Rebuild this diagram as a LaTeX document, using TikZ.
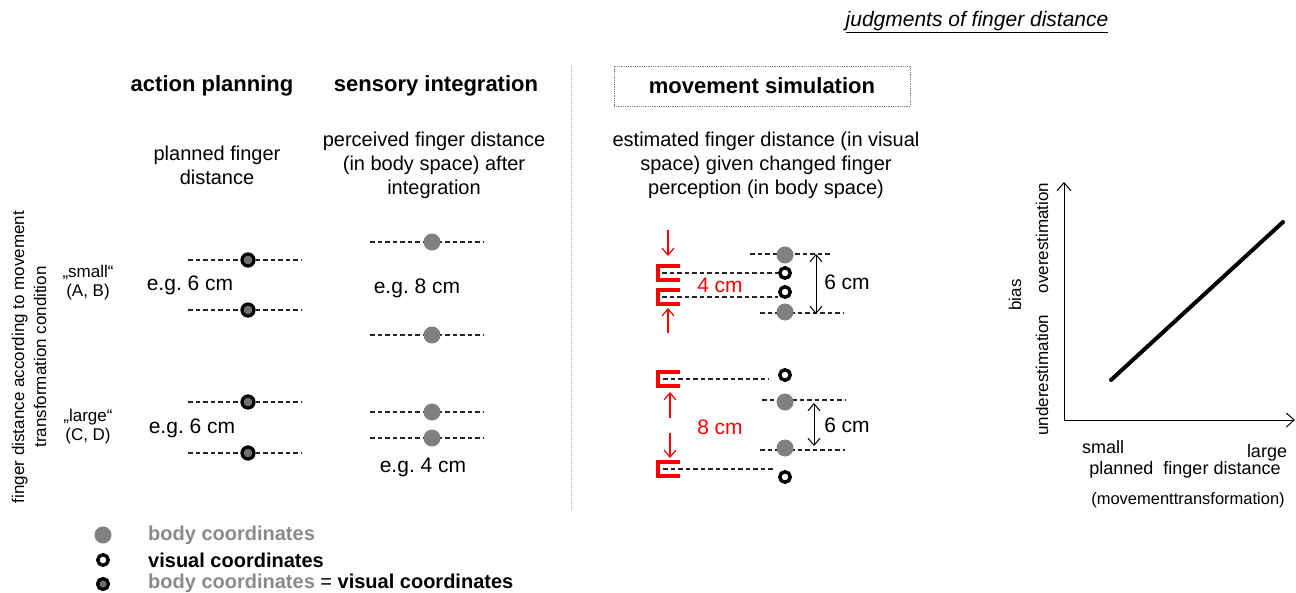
\documentclass[tikz,border=0pt]{standalone}
\usepackage{fontspec}
\setmainfont{Liberation Sans}
\usetikzlibrary{arrows.meta,backgrounds}
\definecolor{dotgray}{HTML}{808080}
\definecolor{txtgray}{HTML}{8A8A8A}
\definecolor{bothfill}{HTML}{6E6E6E}
\definecolor{sred}{HTML}{FF0000}
\begin{document}
\begin{tikzpicture}[x=1pt,y=-1pt,
  txt/.style={font=\fontsize{20}{24}\selectfont,align=center,inner sep=0pt},
  lbl/.style={font=\fontsize{21}{24}\selectfont,align=center,inner sep=0pt},
  hdr/.style={font=\bfseries\fontsize{22}{26}\selectfont,inner sep=0pt},
  sm/.style={font=\fontsize{17}{21}\selectfont,align=center,inner sep=0pt},
  leg/.style={font=\bfseries\fontsize{20}{24}\selectfont,inner sep=0pt,anchor=west},
  dline/.style={draw=black!85,line width=1.1pt,dash pattern=on 4.5pt off 3pt},
  bodydot/.style={circle,fill=dotgray,minimum size=17pt,inner sep=0pt},
  visdot/.style={circle,draw=black,fill=white,line width=3.4pt,minimum size=10.5pt,inner sep=0pt},
  bothdot/.style={circle,draw=black,fill=bothfill,line width=3.2pt,minimum size=12pt,inner sep=0pt},
  brk/.style={draw=sred,line width=4.2pt,line join=miter},
  rarr/.style={draw=sred,line width=1.2pt,-{Straight Barb[length=7pt,width=12pt]}},
  darr/.style={draw=black,line width=1pt,{Straight Barb[length=7pt,width=12pt]}-{Straight Barb[length=7pt,width=12pt]}},
  axarr/.style={draw=black,line width=1pt,-{Straight Barb[length=8pt,width=14pt]}}
]
\useasboundingbox (0,0) rectangle (1296,592);

% title
\node[font=\itshape\fontsize{21}{25}\selectfont,inner sep=0pt] (title) at (977,22) {\underline{judgments of finger distance}};

% divider
\coordinate (divtop) at (571,65);
\coordinate (divbot) at (571,510);
\draw[dotgray!70,densely dotted,line width=1pt] (divtop) -- (divbot);

% headers
\node[hdr] (hAP) at (212,86) {action planning};
\node[hdr] (hSI) at (436,86) {sensory integration};
\node[hdr,draw=gray,densely dotted,line width=0.8pt,minimum width=296pt,minimum height=40pt] (hMS) at (762,86) {movement simulation};

% subtitles
\node[txt] (sAP) at (217,165) {planned finger\\distance};
\node[txt] (sSI) at (434,165) {perceived finger distance\\(in body space) after\\integration};
\node[txt] (sMS) at (766,165) {estimated finger distance (in visual\\space) given changed finger\\perception (in body space)};

% left labels
\node[font=\fontsize{17}{22}\selectfont,rotate=90,align=center,inner sep=0pt] (vlab) at (29,357) {finger distance according to movement\\transformation condition};
\node[sm,font=\fontsize{17}{19}\selectfont] (cS) at (88,283) {„small“\\(A, B)};
\node[sm,font=\fontsize{17}{19}\selectfont] (cL) at (88,427) {„large“\\(C, D)};

% action planning
\node[bothdot] (a1) at (248,260) {};
\node[bothdot] (a2) at (248,310) {};
\node[bothdot] (a3) at (248,402) {};
\node[bothdot] (a4) at (248,453) {};
\node[lbl] (e1) at (190,285) {e.g.\ 6 cm};
\node[lbl] (e2) at (192,428) {e.g.\ 6 cm};

% sensory integration
\node[bodydot] (s1) at (432,242) {};
\node[bodydot] (s2) at (432,335) {};
\node[bodydot] (s3) at (432,412) {};
\node[bodydot] (s4) at (432,438) {};
\node[lbl] (e3) at (417,288) {e.g.\ 8 cm};
\node[lbl] (e4) at (423,467) {e.g.\ 4 cm};

% movement simulation
\node[bodydot] (g1) at (785,255) {};
\node[visdot] (v1) at (785,273) {};
\node[visdot] (v2) at (785,292) {};
\node[bodydot] (g2) at (785,312) {};
\node[visdot] (v3) at (785,375) {};
\node[bodydot] (g3) at (785,402) {};
\node[bodydot] (g4) at (785,448) {};
\node[visdot] (v4) at (785,477) {};

\coordinate (m1) at (662,273);
\coordinate (m2) at (662,297);
\coordinate (m3) at (663,379);
\coordinate (m4) at (663,469);

\draw[brk] (680,266) -- (658,266) -- (658,280) -- (680,280);
\draw[brk] (680,290) -- (658,290) -- (658,304) -- (680,304);
\draw[brk] (680,372) -- (658,372) -- (658,386) -- (680,386);
\draw[brk] (680,462) -- (658,462) -- (658,476) -- (680,476);

\begin{scope}[on background layer]
  \foreach \n in {a1,a2,a3,a4}
    \draw[dline] ([xshift=-60pt]\n.center) -- ([xshift=54pt]\n.center);
  \foreach \n in {s1,s2,s3,s4}
    \draw[dline] ([xshift=-62pt]\n.center) -- ([xshift=51pt]\n.center);
  \draw[dline] ([xshift=-35pt,yshift=1pt]g1.center) -- ([xshift=47pt,yshift=1pt]g1.center);
  \draw[dline] ([xshift=-25pt,yshift=-1pt]g2.center) -- ([xshift=58pt,yshift=-1pt]g2.center);
  \draw[dline] ([xshift=-23pt,yshift=2pt]g3.center) -- ([xshift=60pt,yshift=2pt]g3.center);
  \draw[dline] ([xshift=-25pt,yshift=-2pt]g4.center) -- ([xshift=60pt,yshift=-2pt]g4.center);
  \draw[dline] (m1) -- (v1.west |- m1);
  \draw[dline] (m2) -- (v2.west |- m2);
  \draw[dline] (m3) -- ([xshift=-10pt]v3.west |- m3);
  \draw[dline] (m4) -- ([xshift=-3pt]v4.west |- m4);
\end{scope}

% double arrows and labels
\draw[darr] ([xshift=31pt,yshift=1pt]g1.center) -- ([xshift=31pt,yshift=-2pt]g2.center);
\draw[darr] ([xshift=29pt,yshift=-1pt]g3.center) -- ([xshift=29pt,yshift=2pt]g4.center);
\node[lbl] (d1) at (847,282) {6 cm};
\node[lbl] (d2) at (847,425) {6 cm};

% red arrows and labels
\coordinate (r1s) at (668,230); \coordinate (r1e) at (668,256);
\coordinate (r2s) at (668,333); \coordinate (r2e) at (668,308);
\coordinate (r3s) at (670,418); \coordinate (r3e) at (670,392);
\coordinate (r4s) at (670,433); \coordinate (r4e) at (670,458);
\draw[rarr] (r1s) -- (r1e);
\draw[rarr] (r2s) -- (r2e);
\draw[rarr] (r3s) -- (r3e);
\draw[rarr] (r4s) -- (r4e);
\node[lbl,text=sred] (f1) at (720,285) {4 cm};
\node[lbl,text=sred] (f2) at (720,427) {8 cm};

% graph
\coordinate (O) at (1064,420);
\coordinate (Ytop) at (1064,182);
\coordinate (Xend) at (1295,420);
\draw[axarr] (O) -- (Ytop);
\draw[axarr] (O) -- (Xend);
\coordinate (gl1) at (1111,380);
\coordinate (gl2) at (1283,222);
\draw[line width=4pt,line cap=round] (gl1) -- (gl2);
\node[sm,rotate=90] (bias) at (1015,295) {bias};
\node[sm,rotate=90] (under) at (1042,375) {underestimation};
\node[sm,rotate=90] (over) at (1042,238) {overestimation};
\node[sm,font=\fontsize{18}{21}\selectfont] (xs) at (1103,447) {small};
\node[sm,font=\fontsize{18}{21}\selectfont] (xl) at (1267,453) {large};
\node[sm,font=\fontsize{18}{21}\selectfont] (xt) at (1185,470) {planned\ \ finger\ distance};
\node[sm,font=\fontsize{16.5}{20}\selectfont] (xt2) at (1188,500) {(movementtransformation)};

% legend
\node[bodydot] (lg1) at (103,535) {};
\node[visdot] (lg2) at (103,560) {};
\node[bothdot,minimum size=11pt,line width=3.2pt] (lg3) at (103,584) {};
\node[leg,text=txtgray] (lt1) at (148,535) {body coordinates};
\node[leg] (lt2) at (148,560) {visual coordinates};
\node[leg] (lt3) at (148,583) {\textcolor{txtgray}{body coordinates} \mdseries=\ \bfseries visual coordinates};
\end{tikzpicture}
\end{document}
